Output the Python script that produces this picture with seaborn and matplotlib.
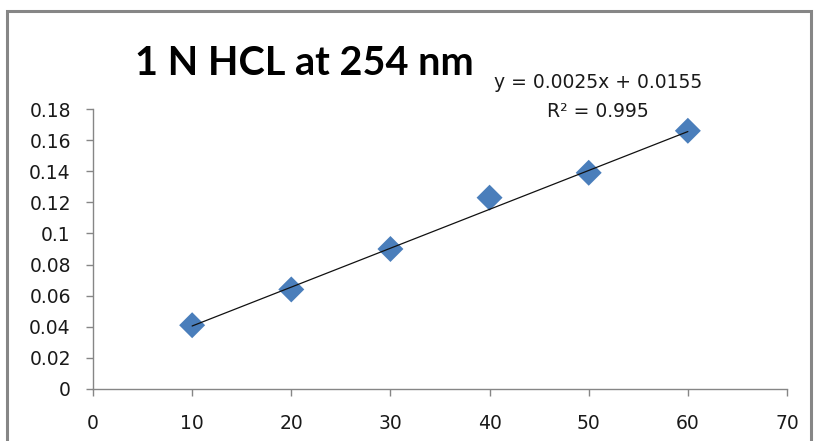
import matplotlib
matplotlib.use("Agg")
import matplotlib.pyplot as plt
import numpy as np
import pandas as pd
import seaborn as sns
from matplotlib.patches import Rectangle

# Concentration vs absorbance, 1 N HCl at 254 nm
concentration = [10, 20, 30, 40, 50, 60]
absorbance = [0.041, 0.064, 0.090, 0.123, 0.139, 0.166]

# Linear trendline as reported
slope = 0.0025
intercept = 0.0155
r_squared = 0.995

title_text = "1 N HCL at 254 nm"
x_ticks = [0, 10, 20, 30, 40, 50, 60, 70]
y_ticks = [0, 0.02, 0.04, 0.06, 0.08, 0.1, 0.12, 0.14, 0.16, 0.18]
y_tick_labels = ["0", "0.02", "0.04", "0.06", "0.08", "0.1", "0.12", "0.14", "0.16", "0.18"]

sns.set_style("white")
plt.rcParams["font.family"] = ["DejaVu Sans"]

df = pd.DataFrame({"conc": concentration, "abs": absorbance})
fit_x = np.array([min(concentration), max(concentration)])
fit_df = pd.DataFrame({"conc": fit_x, "abs": slope * fit_x + intercept})

W, H = 815, 441
fig = plt.figure(figsize=(W / 100, H / 100), dpi=100)
ax = fig.add_axes([93 / W, 1 - 389 / H, (787 - 93) / W, (389 - 109) / H])

sns.lineplot(data=fit_df, x="conc", y="abs", ax=ax, color="#111111", linewidth=0.9, zorder=3)
sns.scatterplot(data=df, x="conc", y="abs", ax=ax, marker="D", s=175,
                color="#4A7EBB", edgecolor="none", zorder=2)

ax.set_xlim(0, 70)
ax.set_ylim(0, 0.18)
ax.set_xticks(x_ticks)
ax.set_xticklabels([str(t) for t in x_ticks])
ax.set_yticks(y_ticks)
ax.set_yticklabels(y_tick_labels)
ax.set_xlabel("")
ax.set_ylabel("")

for side in ("top", "right"):
    ax.spines[side].set_visible(False)
for side in ("left", "bottom"):
    ax.spines[side].set_color("#868686")
    ax.spines[side].set_linewidth(1.0)
ax.tick_params(axis="both", which="both", direction="out", length=5, width=1.0,
               color="#868686", labelsize=13.5, labelcolor="#1a1a1a")
ax.tick_params(axis="y", left=True, pad=11)
ax.tick_params(axis="x", bottom=True, pad=13)

fig.text(135 / W, 1 - 75 / H, title_text, fontsize=28.5, fontweight="bold",
         family=["Lato", "DejaVu Sans"], ha="left", va="baseline", color="black")
fig.text(598 / W, 1 - 88 / H, f"y = {slope}x + {intercept}", fontsize=13.5,
         ha="center", va="baseline", color="#1a1a1a")
fig.text(598 / W, 1 - 117 / H, f"R² = {r_squared}", fontsize=13.5,
         ha="center", va="baseline", color="#1a1a1a")

# Chart area frame
fig.patches.append(Rectangle((7 / W, -0.1), (811 - 7) / W, 1.1 - 11 / H,
                             transform=fig.transFigure, fill=False,
                             edgecolor="#868686", linewidth=2.2))

fig.savefig("out.png", dpi=100)
